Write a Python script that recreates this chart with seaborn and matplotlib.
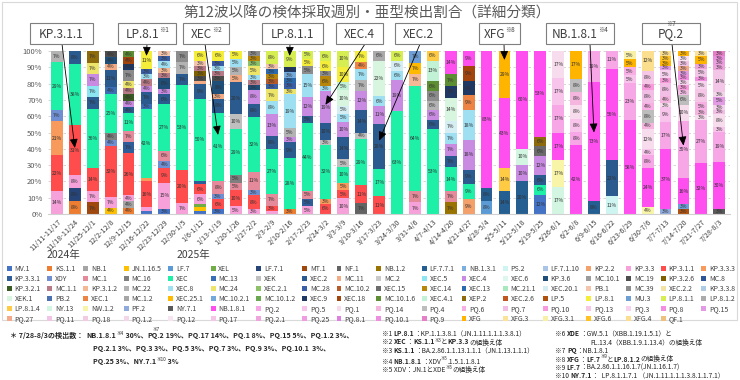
import matplotlib
matplotlib.use("Agg")
import matplotlib.pyplot as plt
import seaborn as sns
import pandas as pd
from matplotlib.patches import Patch, Rectangle

# ---------------- data ----------------
weeks = ["11/11-11/17", "11/18-11/24", "11/25-12/1", "12/2-12/8", "12/9-12/15", "12/16-12/22",
         "12/23-12/29", "12/30-1/5", "1/6-1/12", "1/13-1/19", "1/20-1/26", "1/27-2/2", "2/3-2/9",
         "2/10-2/16", "2/17-2/23", "2/24-3/2", "3/3-3/9", "3/10-3/16", "3/17-3/23", "3/24-3/30",
         "3/31-4/6", "4/7-4/13", "4/14-4/20", "4/21-4/27", "4/28-5/4", "5/5-5/11", "5/12-5/18",
         "5/19-5/25", "5/26-6/1", "6/2-6/8", "6/9-6/15", "6/16-6/22", "6/23-6/29", "6/30-7/6",
         "7/7-7/13", "7/14-7/20", "7/21-7/27", "7/28-8/3"]

legend_names = [
    "MV.1", "KS.1.1", "NB.1", "JN.1.16.5", "LF.7", "XEL", "LF.7.1", "MT.1", "NF.1", "NB.1.2", "LF.7.7.1", "NB.1.3.1", "PS.2", "LF.7.1.10", "KP.2.2", "KP.3.3", "KP.3.1.1", "KP.3.3.3",
    "KP.3.3.1", "XDY", "MC.1", "MC.16", "XEC", "MC.13", "XEK", "XEC.2", "MC.11", "MC.2", "XEC.5", "XEC.4", "XEC.6", "KP.3.6", "MC.10.1", "MC.19", "KP.3.2.6", "MC.8",
    "KP.3.2.1", "MC.1.1", "KP.3.1.2", "MC.22", "XEC.8", "MC.24", "XEC.2.1", "MC.28", "MC.10.2", "XEC.15", "XEC.14", "XEC.13", "MC.21.1", "XEC.20.1", "PB.1", "MC.39", "XEC.2.2", "KP.3.3.8",
    "XEK.1", "PB.2", "XEC.1", "MC.1.2", "XEC.25.1", "MC.10.2.1", "MC.10.1.2", "XEC.9", "XEC.18", "MC.10.1.6", "XEC.4.1", "XEP.2", "XEC.2.6", "LP.5", "LP.8.1", "MU.3", "LP.8.1.1", "LP.8.1.2",
    "LP.8.1.4", "NY.13", "NW.1.2", "PF.2", "NY.7.1", "NB.1.8.1", "PQ.2", "PQ.5", "PQ.1", "PQ.14", "PQ.4", "PQ.6", "PQ.7", "PQ.10", "PQ.13", "PQ.3", "PQ.8", "PQ.15",
    "PQ.27", "PQ.11", "PQ.18", "PQ.1.2", "PQ.12", "PQ.17", "PQ.2.1", "PQ.25", "PQ.8.1", "PQ.10.1", "PQ.9", "XFG", "XFG.3", "XFG.3.1", "XFG.6", "XFG.4", "QF.1"]

legend_colors = [
    "#4472C4", "#ED7D31", "#A5A5A5", "#FFC000", "#5B9BD5", "#70AD47", "#264478", "#9E480E", "#636363", "#997300", "#255E91", "#7CAFDD", "#CFF5F2", "#A9C4E4", "#F4A06B", "#F7A1DA", "#FF4D4D", "#F79A5B",
    "#2F5D9A", "#6F8FD2", "#E48A9A", "#7F7F7F", "#1EF0A8", "#3A6FB8", "#BFBFBF", "#2B5A8E", "#F2AB84", "#C9C9C9", "#8CE6F2", "#C98AE2", "#DDF7EC", "#1F4E79", "#9B9B9B", "#4D4D4D", "#7F6000", "#2F5597",
    "#3A5A24", "#B87A86", "#F5B895", "#B3B3B3", "#9EDFF2", "#EDE46A", "#8CC168", "#3B5FA6", "#B55A28", "#6B6B6B", "#B8860B", "#2C6AAE", "#A9E8BE", "#D5EEF3", "#F4C4AC", "#8C8C8C", "#F3E3A2", "#AFCBE3",
    "#D8F5DF", "#4C71B3", "#EE8444", "#A6A6A6", "#FFBA00", "#74A9DC", "#6AA84F", "#203864", "#A3440C", "#5E8E33", "#C2F2D6", "#8D6B0C", "#C2561E", "#B0520F", "#F4EE3A", "#6D9FD6", "#D6EE52", "#ABABAB",
    "#FFCB45", "#D2F6E2", "#F8F4A8", "#8FAADC", "#595959", "#FF4FEF", "#F7A6E6", "#F9C4EC", "#F6DCEC", "#F4B6DF", "#BDBDBD", "#F8B0E4", "#F3BEE6", "#F89ADB", "#F5C6E5", "#F7D2EE", "#F58DE0", "#E39BE6",
    "#F4A98A", "#F1C3E4", "#F0CBE3", "#F3D6EA", "#F8E3F1", "#F3C6E8", "#F0A4DD", "#EE9EE0", "#DD80DF", "#EE8EDF", "#E67FC7", "#FFB400", "#FCE39A", "#F7F0A6", "#FFC222", "#FBDF8E", "#EFC17E"]

# weekly composition (variant, % of detections)
w01 = [("KP.3.3", 14), ("KP.3.1.1", 22), ("KP.3.3.3", 21), ("XDY", 7), ("XEC", 29), ("MC.22", 7)]
w02 = [("KS.1.1", 8), ("LF.7.1", 8), ("KP.3.3", 8), ("KP.3.1.1", 31), ("XEC", 38), ("XEC.2", 8)]
w03 = [("MT.1", 7), ("KP.3.3", 7), ("KP.3.1.1", 14), ("XEC", 36), ("XEC.2", 7), ("XEC.5", 7), ("XEC.4", 7), ("MC.24", 7), ("XEP.2", 7)]
w04 = [("JN.1.16.5", 4), ("KP.3.3", 7), ("KP.3.1.1", 32), ("XDY", 4), ("MC.16", 4), ("XEC", 25), ("MC.13", 4), ("XEC.2", 11), ("MC.11", 4), ("KP.3.6", 4), ("MC.19", 4)]
w05 = [("KS.1.1", 4), ("NB.1", 4), ("KP.3.3", 4), ("KP.3.1.1", 26), ("KP.3.3.1", 7), ("MC.1", 7), ("XEC", 11), ("XEC.2", 4), ("XEC.4", 4), ("KP.3.2.1", 4), ("MC.1.1", 4), ("MC.24", 4), ("MC.39", 7), ("XEC.9", 4), ("MC.10.1.6", 4), ("XEC.18", 4)]
w06 = [("MV.1", 2), ("KP.3.3", 2), ("KP.3.1.1", 16), ("KP.3.3.3", 2), ("XEC", 42), ("MC.13", 3), ("XEC.2", 7), ("XEC.4", 4), ("MC.1.1", 4), ("XEC.8", 3), ("MC.28", 3), ("LP.8.1", 11)]
w07 = [("MV.1", 3), ("KP.3.3", 15), ("KP.3.1.1", 9), ("XDY", 4), ("MC.1", 6), ("XEC", 27), ("XEC.2", 6), ("XEC.4", 3), ("KP.3.6", 6), ("MC.1.1", 3), ("XEC.8", 4), ("KP.3.1.2", 3), ("MC.28", 3), ("PB.1", 3)]
w08 = [("KP.3.3", 7), ("KP.3.1.1", 20), ("XEC", 53), ("XEC.2", 7), ("MC.22", 7), ("MC.39", 7)]
w09 = [("MV.1", 2), ("JN.1.16.5", 2), ("XEL", 2), ("KP.3.3", 6), ("KP.3.1.1", 6), ("KP.3.3.1", 2), ("XEC", 50), ("XEC.2", 9), ("MC.11", 2), ("MC.19", 3), ("KP.3.2.6", 3), ("MC.1.1", 3), ("PB.1", 3), ("LP.8.1", 6)]
w10 = [("MV.1", 3), ("KP.3.1.1", 6), ("XDY", 3), ("MC.1", 8), ("XEC", 41), ("XEC.2", 8), ("KP.3.6", 8), ("MC.11", 3), ("MC.19", 3), ("MC.1.1", 3), ("XEC.8", 3), ("MC.28", 3), ("LP.8.1", 6)]
w11 = [("KP.3.3", 5), ("KP.3.1.1", 10), ("MC.1", 5), ("MC.16", 5), ("XEC", 29), ("XEK", 10), ("XEC.2", 20), ("MC.11", 5), ("MC.22", 5), ("XEC.8", 5), ("LP.8.1", 5)]
w12 = [("KP.3.3", 3), ("KP.3.1.1", 8), ("XDY", 3), ("MC.1", 11), ("XEC", 32), ("XEC.2", 8), ("XEC.4", 8), ("KP.3.6", 3), ("MC.1.1", 3), ("XEC.8", 3), ("XEC.2.1", 3), ("XEC.14", 3), ("MC.24", 5), ("MC.39", 3)]
w13 = [("KP.3.3", 2), ("KP.3.1.1", 3), ("MC.1", 7), ("XEC", 27), ("XEC.2", 8), ("XEC.4", 13), ("XEC.8", 8), ("MC.24", 7), ("MC.28", 3), ("MC.10.2", 3), ("XEC.14", 3), ("XEC.13", 3), ("PB.1", 3), ("LP.8.1.1", 8)]
w14 = [("KS.1.1", 3), ("XEC", 28), ("XEC.2", 9), ("XEC.4", 3), ("MC.22", 5), ("XEC.8", 19), ("MC.24", 3), ("MC.28", 3), ("XEC.13", 3), ("MC.10.2.1", 3), ("XEC.9", 3), ("LP.8.1.1", 9)]
w15 = [("KP.3.3", 5), ("KP.3.3.1", 5), ("MC.1", 5), ("XEC", 44), ("XEC.2", 5), ("XEC.4", 12), ("XEC.8", 15), ("MC.39", 5), ("LP.8.1", 5), ("LP.8.1.1", 5)]
w16 = [("KP.3.1.1", 6), ("KP.3.3.3", 3), ("XEC", 32), ("XEK", 3), ("XEC.2", 10), ("XEC.4", 19), ("XEC.8", 3), ("XEC.14", 6), ("MC.39", 3), ("LP.8.1", 6), ("LP.8.1.1", 6)]
w17 = [("KP.3.3", 10), ("KP.3.1.1", 5), ("KP.3.3.3", 5), ("XEC", 10), ("XEK", 5), ("XEC.2", 14), ("XEC.4", 10), ("XEC.8", 5), ("XEC.20.1", 5), ("XEK.1", 10), ("XEC.4.1", 5), ("LP.8.1", 10), ("LP.8.1.1", 10)]
w18 = [("NF.1", 7), ("KP.3.1.1", 11), ("XEC", 29), ("XEK", 4), ("XEC.2", 14), ("XEC.4", 12), ("MC.22", 7), ("XEC.8", 7), ("XEC.1", 4), ("LP.8.1", 7)]
w19 = [("KP.3.1.1", 11), ("XEC", 17), ("XEC.2", 28), ("XEC.4", 11), ("XEC.8", 6), ("XEK.1", 22), ("LP.8.1.2", 6)]
w20 = [("XEC", 63), ("XEC.4", 19), ("XEC.8", 6), ("XEC.20.1", 6), ("LP.8.1.1", 6)]
w21 = [("KP.3.3", 7), ("MC.1", 7), ("XEC", 64), ("KP.3.1.2", 7), ("XEC.25.1", 7), ("MU.3", 7)]
w22 = [("XEC", 53), ("XEC.2", 6), ("XEC.4", 6), ("MC.22", 6), ("MC.39", 6), ("MC.10.1.6", 6), ("XEC.4.1", 13), ("LP.8.1.4", 6)]
w23 = [("NB.1.2", 7), ("MC.1", 7), ("XEC", 14), ("XEC.2", 7), ("XEC.4", 7), ("XEC.8", 7), ("XEC.20.1", 7), ("XEK.1", 14), ("XEC.9", 7), ("MC.10.1.6", 7), ("NB.1.8.1", 14)]
w24 = [("KP.2.2", 9), ("XEC", 9), ("XEC.2", 9), ("XEC.4", 18), ("XEC.8", 18), ("XEC.1", 9), ("XEC.9", 9), ("XEC.18", 9), ("NB.1.8.1", 9)]
w25 = [("LF.7", 8), ("LF.7.7.1", 8), ("NB.1.8.1", 83)]
w26 = [("LF.7.7.1", 14), ("LP.8.1.4", 14), ("NB.1.8.1", 43), ("XFG", 29)]
w27 = [("LF.7.7.1", 20), ("XEC.4", 10), ("NY.13", 10), ("NB.1.8.1", 60)]
w28 = [("MV.1", 12), ("XEC", 6), ("XEC.2", 6), ("XEC.4", 12), ("XEC.15", 6), ("XEP.2", 6), ("NB.1.8.1", 53)]
w29 = [("NY.13", 17), ("NW.1.2", 17), ("NB.1.8.1", 17), ("PQ.2", 17), ("PQ.5", 17), ("PQ.1", 17)]
w30 = [("NB.1.8.1", 42), ("PQ.2", 8), ("PQ.5", 8), ("PQ.1", 8), ("PQ.14", 8), ("PQ.4", 8), ("XFG", 17)]
w31 = [("LF.7.7.1", 8), ("NB.1.8.1", 73), ("PQ.2", 19)]
w32 = [("PS.2", 11), ("XEC.2", 22), ("NB.1.8.1", 56), ("PQ.2", 11)]
w33 = [("NB.1.8.1", 58), ("PQ.2", 23), ("PQ.5", 5), ("PQ.6", 5), ("XFG", 5), ("XFG.3.1", 5)]
w34 = [("NW.1.2", 4), ("NB.1.8.1", 24), ("PQ.2", 8), ("PQ.5", 4), ("PQ.1", 12), ("PQ.14", 4), ("PQ.4", 8), ("PQ.6", 4), ("PQ.7", 8), ("PQ.10", 4), ("PQ.13", 8), ("XFG.4", 12)]
w35 = [("PF.2", 3), ("NB.1.8.1", 37), ("PQ.2", 17), ("PQ.5", 9), ("PQ.1", 3), ("PQ.14", 4), ("PQ.7", 8), ("PQ.10", 3), ("PQ.3", 5), ("PQ.15", 3), ("XFG", 3), ("XFG.6", 3), ("XFG.4", 3)]
w36 = [("LP.5", 3), ("MU.3", 3), ("NB.1.8.1", 16), ("PQ.2", 35), ("PQ.1", 10), ("PQ.4", 6), ("PQ.7", 3), ("PQ.10", 3), ("PQ.3", 3), ("PQ.8", 3), ("PQ.15", 3), ("PQ.27", 3), ("PQ.11", 3), ("PQ.12", 3), ("XFG", 3)]
w37 = [("NB.1.8.1", 32), ("PQ.2", 27), ("PQ.1", 3), ("PQ.14", 3), ("PQ.6", 5), ("PQ.13", 8), ("PQ.3", 5), ("PQ.8", 3), ("PQ.17", 5), ("PQ.2.1", 3), ("XFG", 5), ("XFG.3", 3)]
w38 = [("NY.7.1", 3), ("NB.1.8.1", 30), ("PQ.2", 19), ("PQ.5", 3), ("PQ.1", 8), ("PQ.7", 3), ("PQ.3", 3), ("PQ.15", 5), ("PQ.1.2", 3), ("PQ.17", 14), ("PQ.2.1", 3), ("PQ.25", 3), ("PQ.10.1", 3), ("PQ.9", 3)]

compositions = [w01, w02, w03, w04, w05, w06, w07, w08, w09, w10, w11, w12, w13, w14, w15, w16, w17, w18, w19,
                w20, w21, w22, w23, w24, w25, w26, w27, w28, w29, w30, w31, w32, w33, w34, w35, w36, w37, w38]

# annotation call-outs: (main text, superscript, week index, arrow tip %, box x0,x1 px, arrow start px)
callouts = [("KP.3.1.1", "", 1, 40.5, 30, 93, 62),
            ("LP.8.1", "※1", 5, 97, 118, 176, 147),
            ("XEC", "※2", 9, 48.5, 183, 229, 205),
            ("LP.8.1.1", "", 13, 97, 262, 323, 290),
            ("XEC.4", "", 15, 67, 336, 383, 365),
            ("XEC.2", "", 18, 45, 395, 441, 420),
            ("XFG", "※8", 25, 94.5, 479, 520, 504),
            ("NB.1.8.1", "※4", 30, 50, 546, 614, 590),
            ("PQ.2", "※7", 35, 42, 642, 700, 672)]

title = "第12波以降の検体採取週別・亜型検出割合（詳細分類）"

# ---------------- figure ----------------
sns.set_theme(style="white")
plt.rcParams["font.family"] = ["Noto Sans CJK JP", "DejaVu Sans"]

W, H = 740, 380
fig = plt.figure(figsize=(W / 100, H / 100), dpi=100)
fig.patch.set_facecolor("white")


def fx(px):
    return px / W


def fy(py):
    return 1 - py / H


ax = fig.add_axes([fx(48), fy(214), fx(730) - fx(48), fy(51) - fy(214)])

rank = {n: i for i, n in enumerate(legend_names)}
rows = []
for wk, comp in zip(weeks, compositions):
    total = sum(v for _, v in comp)
    for name, v in comp:
        rows.append({"week": wk, "variant": name, "raw": v, "pct": v / total * 100})
df = pd.DataFrame(rows)
df["week"] = pd.Categorical(df["week"], categories=weeks, ordered=True)
present = [n for n in legend_names if n in set(df["variant"])]
palette = dict(zip(legend_names, legend_colors))

sns.histplot(data=df, x="week", weights="pct", hue="variant", hue_order=present[::-1],
             multiple="stack", discrete=True, shrink=0.66, palette=palette,
             linewidth=0, alpha=1, legend=False, ax=ax)

# segment labels (skip the thinnest slivers so labels stay legible)
for i, comp in enumerate(compositions):
    total = sum(v for _, v in comp)
    cum = 0
    for name, v in sorted(comp, key=lambda t: rank[t[0]]):
        h = v / total * 100
        if v >= 3:
            ax.text(i, cum + h / 2, f"{v}%", ha="center", va="center", fontsize=3.6, color="#303030")
        cum += h

ax.set_xlim(-0.5, 37.6)
ax.set_ylim(0, 100)
ax.set_yticks(range(0, 101, 10))
ax.set_yticklabels([f"{v}%" for v in range(0, 101, 10)])
ax.set_xticks(range(len(weeks)))
ax.set_xticklabels(weeks, rotation=45, ha="right", rotation_mode="anchor")
ax.tick_params(axis="y", labelsize=5.5, labelcolor="#595959", length=0, pad=4)
ax.tick_params(axis="x", labelsize=5.2, labelcolor="#404040", length=0, pad=3)
ax.yaxis.grid(True, linestyle=(0, (3, 3)), color="#D0D0D0", linewidth=0.6)
ax.set_axisbelow(True)
for s in ["left", "right", "top"]:
    ax.spines[s].set_visible(False)
ax.spines["bottom"].set_color("#D0D0D0")
ax.spines["bottom"].set_linewidth(0.8)
ax.set_xlabel("")
ax.set_ylabel("")

renderer = fig.canvas.get_renderer()


def draw_runs(x, y, parts, align="left", color="#262626"):
    """parts: (text, size, weight, raise_px, over_previous)"""
    texts = []
    cx = 0
    prev = None
    for text, size, weight, dy, over in parts:
        t = fig.text(0, 0, text, fontsize=size, fontweight=weight, color=color, va="baseline", ha="left")
        w = t.get_window_extent(renderer).width
        if over and prev is not None:
            px_, pw = prev
            texts.append((t, px_ + pw / 2 - w / 2, dy))
        else:
            texts.append((t, cx, dy))
            prev = (cx, w)
            cx += w
    off = x if align == "left" else x - cx / 2
    for t, px_, dy in texts:
        t.set_position((fx(off + px_), fy(y - dy)))


# title
fig.text(fx(367), fy(14), title, ha="center", va="center", fontsize=10.5, color="#595959")

# call-out boxes with arrows
for text, sup, wi, tip, x0, x1, sx in callouts:
    fig.patches.append(Rectangle((fx(x0), fy(44)), fx(x1) - fx(x0), fy(23) - fy(44),
                                 transform=fig.transFigure, facecolor="white",
                                 edgecolor="#7F7F7F", linewidth=0.8, zorder=3))
    parts = [(text, 8.5, "normal", 0, False)]
    if sup == "※7":
        parts.append((sup, 4.5, "normal", 12, True))
    elif sup:
        parts.append((sup, 4.5, "normal", 5, False))
    draw_runs((x0 + x1) / 2, 37.5, parts, align="center", color="#404040")
    ax.annotate("", xy=(wi, tip), xycoords="data", xytext=(fx(sx), fy(44)),
                textcoords="figure fraction", annotation_clip=False,
                arrowprops=dict(arrowstyle="-|>,head_length=0.45,head_width=0.2", color="black",
                                lw=0.6, shrinkA=0, shrinkB=0))

# year labels
fig.text(fx(63), fy(255), "2024年", ha="center", va="center", fontsize=7.5, color="#404040")
fig.text(fx(193), fy(255), "2025年", ha="center", va="center", fontsize=7.5, color="#404040")

# legend (row-major order over 18 columns)
ncol = 18
handles = [Patch(facecolor=c, edgecolor="none") for c in legend_colors]
order = [r * ncol + c for c in range(ncol) for r in range(6) if r * ncol + c < len(legend_names)]
leg = fig.legend([handles[k] for k in order], [legend_names[k] for k in order], ncol=ncol,
                 loc="upper left", bbox_to_anchor=(fx(4), fy(318), fx(738) - fx(4), fy(262) - fy(318)),
                 mode="expand", borderaxespad=0, frameon=False, fontsize=5,
                 handlelength=0.7, handleheight=0.7, handletextpad=0.4,
                 labelspacing=0.3, columnspacing=0.4)
for t in leg.get_texts():
    t.set_color("#404040")

# chart border
fig.patches.append(Rectangle((fx(2), fy(320)), fx(737) - fx(2), fy(2) - fy(320),
                             transform=fig.transFigure, fill=False, edgecolor="#D9D9D9", linewidth=0.8))

# footnote: latest week breakdown
fs = 5.1
draw_runs(10, 338, [("＊ 7/28-8/3の検出数：  ", fs, "bold", 0, False),
                    ("NB.1.8.1", fs, "bold", 0, False), ("※4", 3.3, "normal", 3, False),
                    (" 30%、", fs, "bold", 0, False), ("PQ.2", fs, "bold", 0, False),
                    ("※7", 3.3, "normal", 7, True),
                    (" 19%、PQ.17 14%、PQ.1 8%、PQ.15 5%、PQ.1.2 3%、", fs, "bold", 0, False)])
draw_runs(93, 351, [("PQ.2.1 3%、PQ.3 3%、PQ.5 3%、PQ.7 3%、PQ.9 3%、PQ.10.1  3%、", fs, "bold", 0, False)])
draw_runs(93, 364, [("PQ.25 3%、NY.7.1", fs, "bold", 0, False), ("※10", 3.3, "normal", 3, False),
                    (" 3%", fs, "bold", 0, False)])

# footnotes: definitions
nf = 4.8
B, N = "bold", "normal"
draw_runs(382, 336, [("※1 ", nf, N, 0, False), ("LP.8.1", nf, B, 0, False),
                     ("：KP.1.1.3.8.1（JN.1.11.1.1.1.3.8.1）", nf, N, 0, False)])
draw_runs(382, 344.5, [("※2 ", nf, N, 0, False), ("XEC", nf, B, 0, False), ("：", nf, N, 0, False),
                       ("KS.1.1", nf, B, 0, False), ("※3", 3.2, N, 3, False), ("と", nf, N, 0, False),
                       ("KP.3.3", nf, B, 0, False), ("の組換え体", nf, N, 0, False)])
draw_runs(382, 353, [("※3 ", nf, N, 0, False), ("KS.1.1", nf, B, 0, False),
                     ("：BA.2.86.1.1.13.1.1.1（JN.1.13.1.1.1）", nf, N, 0, False)])
draw_runs(382, 363.5, [("※4 ", nf, N, 0, False), ("NB.1.8.1", nf, B, 0, False), ("：XDV", nf, N, 0, False),
                       ("※5", 3.2, N, 3, False), (".1.5.1.1.8.1", nf, N, 0, False)])
draw_runs(382, 372, [("※5 XDV：JN.1とXDE", nf, N, 0, False), ("※6", 3.2, N, 3, False),
                     ("の組換え体", nf, N, 0, False)])

draw_runs(555, 336, [("※6 ", nf, N, 0, False), ("XDE", nf, B, 0, False),
                     ("：GW.5.1（XBB.1.19.1.5.1）と", nf, N, 0, False)])
draw_runs(590, 344.5, [("FL.13.4（XBB.1.9.1.13.4）の組換え体", nf, N, 0, False)])
draw_runs(555, 353, [("※7 ", nf, N, 0, False), ("PQ", nf, B, 0, False), ("：NB.1.8.1", nf, N, 0, False)])
draw_runs(555, 361.5, [("※8 ", nf, N, 0, False), ("XFG", nf, B, 0, False), ("：", nf, N, 0, False),
                       ("LF.7", nf, B, 0, False), ("※9", 3.2, N, 3, False), ("と", nf, N, 0, False),
                       ("LP.8.1.2", nf, B, 0, False), ("の組換え体", nf, N, 0, False)])
draw_runs(555, 370, [("※9 ", nf, N, 0, False), ("LF.7", nf, B, 0, False),
                     ("：BA.2.86.1.1.16.1.7(JN.1.16.1.7)", nf, N, 0, False)])
draw_runs(555, 378, [("※10 ", nf, N, 0, False), ("NY.7.1", nf, B, 0, False),
                     ("：  LP.8.1.1.7.1 （JN.1.11.1.1.1.3.8.1.1.7.1）", nf, N, 0, False)])

fig.savefig("out.png", dpi=100, facecolor="white")
